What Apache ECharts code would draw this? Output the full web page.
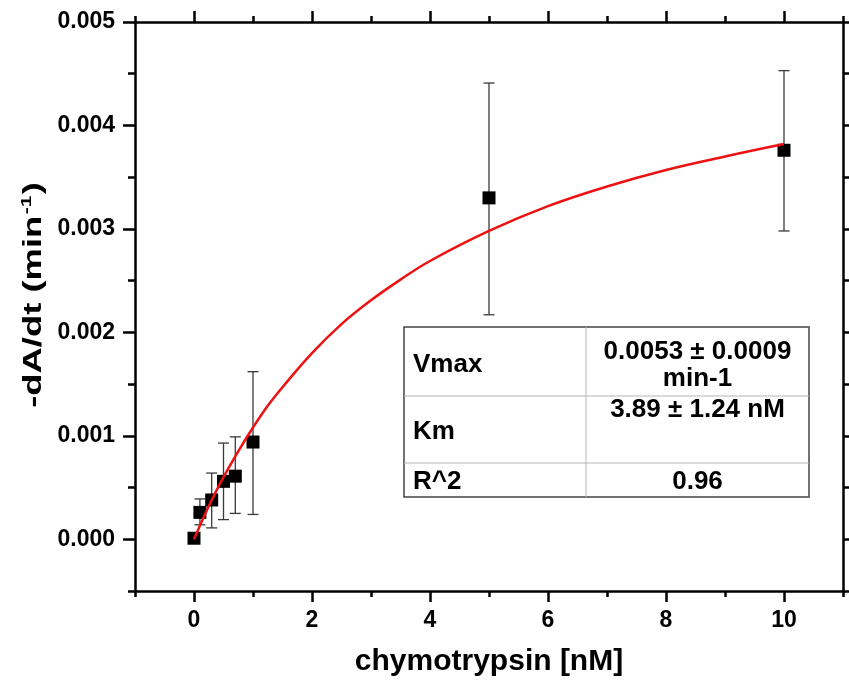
<!DOCTYPE html>
<html>
<head>
<meta charset="utf-8">
<script src="https://cdn.jsdelivr.net/npm/echarts@6/dist/echarts.min.js"></script>
<style>
html,body{margin:0;padding:0;background:#fff;}
#chart{width:849px;height:685px;}
</style>
</head>
<body>
<div id="chart"></div>
<script>
// ---- data ----
const concentrations = [0, 0.1, 0.3, 0.5, 0.7, 1, 5, 10];           // chymotrypsin [nM]
const rates          = [0.00001, 0.00026, 0.00038, 0.00056, 0.00061, 0.00094, 0.00330, 0.00376];
const errLow         = [0.00001, 0.00014, 0.00011, 0.00019, 0.00025, 0.00024, 0.00217, 0.00298];
const errHigh        = [0.00001, 0.00039, 0.00064, 0.00093, 0.00099, 0.00162, 0.00441, 0.00453];
const fitX = [0, 0.25, 0.5, 0.75, 1, 1.25, 1.5, 2, 2.5, 3, 3.5, 4, 5, 6, 7, 8, 9, 10];
const fitY = [0, 0.00032, 0.00060, 0.00085, 0.00108, 0.00129, 0.00147, 0.00180, 0.00208, 0.00231, 0.00251, 0.00269, 0.00298, 0.00322, 0.00341, 0.00357, 0.00370, 0.00382];
const xMajorTicks = [0, 2, 4, 6, 8, 10];
const xMinorTicks = [-1, 1, 3, 5, 7, 9, 11];
const yMajorTicks = [0, 0.001, 0.002, 0.003, 0.004, 0.005];
const yMinorTicks = [-0.0005, 0.0005, 0.0015, 0.0025, 0.0035, 0.0045];
const yAllTicks   = [-0.0005, 0, 0.0005, 0.001, 0.0015, 0.002, 0.0025, 0.003, 0.0035, 0.004, 0.0045, 0.005];
const tableRows = [
  ['Vmax', '0.0053 ± 0.0009\nmin-1'],
  ['Km', '3.89 ± 1.24 nM'],
  ['R^2', '0.96']
];

const FONT = '"Liberation Sans", Arial, sans-serif';
const chart = echarts.init(document.getElementById('chart'), null, {renderer: 'canvas'});

const pts = concentrations.map((x, i) => [x, rates[i]]);
const errData = concentrations.map((x, i) => [x, rates[i], errLow[i], errHigh[i]]).filter(d => d[3] > d[2]);
const fitData = fitX.map((x, i) => [x, fitY[i]]);

const axisLine = {show: true, onZero: false, lineStyle: {color: '#000', width: 2.5}};
const noLine = {show: false, onZero: false};
const base = {type: 'value', splitLine: {show: false}, axisLine: noLine};

const option = {
  animation: false,
  backgroundColor: '#fff',
  grid: {left: 135, right: 6, top: 22, bottom: 94, containLabel: false},
  xAxis: [
    Object.assign({}, base, {
      min: -1, max: 11, position: 'bottom', axisLine: axisLine,
      axisTick: {show: true, inside: false, length: 11, customValues: xMajorTicks, lineStyle: {color: '#000', width: 2.5}},
      axisLabel: {show: true, customValues: xMajorTicks, margin: 18, color: '#000', fontSize: 23, fontWeight: 'bold', fontFamily: FONT},
      name: 'chymotrypsin [nM]', nameLocation: 'middle', nameGap: 56,
      nameTextStyle: {color: '#000', fontSize: 30, fontWeight: 'bold', fontFamily: FONT}
    }),
    Object.assign({}, base, {
      min: -1, max: 11, position: 'bottom',
      axisTick: {show: true, length: 6, customValues: xMinorTicks, lineStyle: {color: '#000', width: 2.5}},
      axisLabel: {show: false}
    }),
    Object.assign({}, base, {
      min: -1, max: 11, position: 'top', axisLine: axisLine,
      axisTick: {show: true, length: 11, customValues: xMajorTicks, lineStyle: {color: '#000', width: 2.5}},
      axisLabel: {show: false}
    }),
    Object.assign({}, base, {
      min: -1, max: 11, position: 'top',
      axisTick: {show: true, length: 6, customValues: xMinorTicks, lineStyle: {color: '#000', width: 2.5}},
      axisLabel: {show: false}
    })
  ],
  yAxis: [
    Object.assign({}, base, {
      min: -0.0005, max: 0.005, position: 'left', axisLine: axisLine,
      axisTick: {show: true, length: 12, customValues: yMajorTicks, lineStyle: {color: '#000', width: 2.5}},
      axisLabel: {show: true, customValues: yMajorTicks, margin: 20, color: '#000', fontSize: 23, fontWeight: 'bold', fontFamily: FONT,
        formatter: v => Number(v).toFixed(3)}
    }),
    Object.assign({}, base, {
      min: -0.0005, max: 0.005, position: 'left',
      axisTick: {show: true, length: 7, customValues: yMinorTicks, lineStyle: {color: '#000', width: 2.5}},
      axisLabel: {show: false}
    }),
    Object.assign({}, base, {
      min: -0.0005, max: 0.005, position: 'right', axisLine: axisLine,
      axisTick: {show: true, length: 8, customValues: yAllTicks, lineStyle: {color: '#000', width: 2.5}},
      axisLabel: {show: false}
    })
  ],
  series: [
    {
      type: 'custom', xAxisIndex: 0, yAxisIndex: 0, z: 2,
      data: errData,
      renderItem: function (params, api) {
        const x = api.value(0);
        const top = api.coord([x, api.value(3)]);
        const bot = api.coord([x, api.value(2)]);
        const w = 5.5;
        const st = {stroke: '#3a3a3a', lineWidth: 1.3};
        return {type: 'group', children: [
          {type: 'line', shape: {x1: top[0], y1: top[1], x2: bot[0], y2: bot[1]}, style: st},
          {type: 'line', shape: {x1: top[0] - w, y1: top[1], x2: top[0] + w, y2: top[1]}, style: st},
          {type: 'line', shape: {x1: bot[0] - w, y1: bot[1], x2: bot[0] + w, y2: bot[1]}, style: st}
        ]};
      }
    },
    {
      type: 'scatter', xAxisIndex: 0, yAxisIndex: 0, z: 3,
      symbol: 'rect', symbolSize: 13,
      itemStyle: {color: '#000', opacity: 1},
      data: pts
    },
    {
      type: 'line', xAxisIndex: 0, yAxisIndex: 0, z: 4,
      smooth: 0.4, showSymbol: false, symbol: 'none',
      lineStyle: {color: '#ee1111', width: 2.5},
      data: fitData
    }
  ],
  graphic: [
    {
      type: 'text', x: 34, y: 295, z: 10,
      rotation: Math.PI / 2, scaleX: 1.4, scaleY: 1,
      style: {
        text: '-dA/dt (min{sup|-1})',
        fill: '#000', font: 'bold 26px ' + FONT,
        align: 'center', verticalAlign: 'middle',
        rich: {sup: {fontSize: 15, fontWeight: 'bold', fontFamily: FONT, fill: '#000', padding: [0, 1, 14, 1]}}
      }
    }
  ]
};

// table drawn as graphic elements
(function () {
  const L = 404, R = 809, T = 327, B = 497, C = 586;
  const rowLines = [396, 463];
  const g = [];
  g.push({type: 'rect', shape: {x: L, y: T, width: R - L, height: B - T}, style: {fill: '#fff', stroke: '#444', lineWidth: 1.5}, z: 20});
  rowLines.forEach(y => g.push({type: 'line', shape: {x1: L, y1: y, x2: R, y2: y}, style: {stroke: '#b5b5b5', lineWidth: 1}, z: 21}));
  g.push({type: 'line', shape: {x1: C, y1: T, x2: C, y2: B}, style: {stroke: '#b5b5b5', lineWidth: 1}, z: 21});
  const tf = 'bold 26px ' + FONT;
  const leftY = [365, 432, 482];
  const rightY = [365, 410, 482];
  tableRows.forEach((r, i) => {
    g.push({type: 'text', x: 413, y: leftY[i], z: 22, style: {text: r[0], font: tf, fill: '#000', align: 'left', verticalAlign: 'middle'}});
    g.push({type: 'text', x: (C + R) / 2, y: rightY[i], z: 22, style: {text: r[1], font: tf, fill: '#000', align: 'center', verticalAlign: 'middle', lineHeight: 27}});
  });
  option.graphic = option.graphic.concat(g);
})();

chart.setOption(option);
</script>
</body>
</html>
